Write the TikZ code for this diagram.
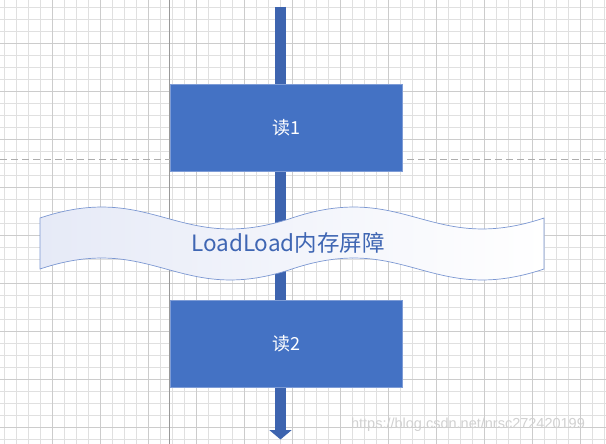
\documentclass[tikz,border=0pt]{standalone}
\usepackage{fontspec}
\setmainfont{Liberation Sans}
\newfontfamily\cjk{Noto Sans CJK SC}
\usetikzlibrary{arrows.meta}
\definecolor{boxblue}{HTML}{4472C4}
\definecolor{boxedge}{HTML}{7E9CD6}
\definecolor{barblue}{HTML}{3D64AF}
\definecolor{wavefill}{HTML}{E6EAF7}
\definecolor{waveedge}{HTML}{7B97D2}
\definecolor{wavetext}{HTML}{3F66B3}
\definecolor{gridminor}{HTML}{E0E0E0}
\definecolor{gridmajor}{HTML}{CCCCCC}
\tikzset{
  readbox/.style={draw=boxedge, line width=0.8pt, fill=boxblue, minimum width=231.6pt, minimum height=86.6pt, inner sep=0pt, text=white, font=\cjk\fontsize{18}{20}\selectfont},
  bar/.style={draw=barblue, line width=10.5pt, -{Triangle[width=22pt,length=9.5pt]}},
  wave/.style={draw=waveedge, line width=0.7pt, left color=wavefill, right color=white},
  wavelabel/.style={text=wavetext, font=\cjk\fontsize{22.5}{24}\selectfont, inner sep=0pt},
  watermark/.style={text=black!18, font=\fontsize{14.5}{16}\selectfont, inner sep=0pt}
}
\begin{document}
\begin{tikzpicture}[x=1pt,y=-1pt]
\useasboundingbox (0,0) rectangle (606,444);
\fill[white] (0,0) rectangle (606,444);
% grid
\foreach \i in {0,...,50} {\draw[gridminor, line width=0.6pt] ({4+12*\i},0) -- ({4+12*\i},444);}
\foreach \i in {0,...,37} {\draw[gridminor, line width=0.6pt] (0,{7+12*\i}) -- (606,{7+12*\i});}
\foreach \i in {0,...,12} {\draw[gridmajor, line width=0.7pt] ({52+48*\i},0) -- ({52+48*\i},444);}
\foreach \i in {0,...,9} {\draw[gridmajor, line width=0.7pt] (0,{43+48*\i}) -- (606,{43+48*\i});}
\draw[black!40, line width=0.8pt] (169.5,0) -- (169.5,444);
\draw[black!32, line width=0.8pt, dash pattern=on 7pt off 4pt] (0,159) -- (606,159);
% bar
\coordinate (top) at (280.5,7);
\coordinate (bottom) at (280.5,439.5);
\draw[bar] (top) -- (bottom);
% boxes
\node[readbox] (r1) at (286.5,127.7) {读1};
\node[readbox] (r2) at (286.5,344) {读2};
% wave
\path[wave] (40,218) .. controls (153.4,180) and (178.6,256) .. (292,218)
  .. controls (405.4,180) and (430.6,256) .. (544,218) -- (544,269)
  .. controls (430.6,307) and (405.4,231) .. (292,269)
  .. controls (178.6,307) and (153.4,231) .. (40,269) -- cycle;
\node[wavelabel] (barrier) at (288,243) {LoadLoad内存屏障};
\node[watermark] (wm) at (468,425) {https://blog.csdn.net/nrsc272420199};
\end{tikzpicture}
\end{document}
